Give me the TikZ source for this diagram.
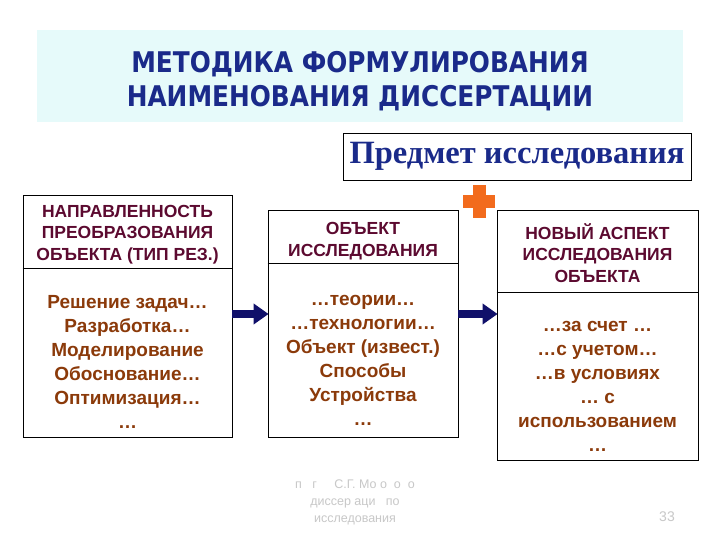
\documentclass[tikz,border=0pt]{standalone}
\usepackage{fontspec}
\setmainfont{Liberation Sans}
\newfontfamily\titlefont{DejaVu Sans}[FakeStretch=0.87]
\newfontfamily\predfont{Liberation Serif}
\usepackage{xcolor}
\usepackage{tikz}
\usetikzlibrary{arrows.meta}
\definecolor{titleblue}{HTML}{1A2A8A}
\definecolor{titlebg}{HTML}{E6FAFA}
\definecolor{headred}{HTML}{5C0A30}
\definecolor{bodybrown}{HTML}{8B3A0A}
\definecolor{arrowblue}{HTML}{10106A}
\definecolor{plusorange}{HTML}{F26B1D}
\definecolor{footgray}{HTML}{C8C8C8}
\tikzset{
	colbox/.style={draw=black, line width=0.8pt, inner sep=0pt},
	headtxt/.style={align=center, text=headred, font=\bfseries\fontsize{17.5}{21.5}\selectfont},
	bodytxt/.style={align=center, text=bodybrown, font=\bfseries\fontsize{19}{24}\selectfont},
	bigarrow/.style={draw=arrowblue, line width=8pt, -{Triangle[length=15pt,width=20pt]}, shorten >=-1pt}
}

\begin{document}
\begin{tikzpicture}[x=1pt, y=-1pt]
				\useasboundingbox[fill=white] (0,0) rectangle (720,540);
				
				% title
				\node[fill=titlebg, minimum width=646, minimum height=92, inner sep=0pt] (titlebox) at (360,76) {};
				\node[align=center, text=titleblue, font=\titlefont\bfseries\fontsize{28.5}{34}\selectfont] (title) at (360,81)
				{МЕТОДИКА ФОРМУЛИРОВАНИЯ\\НАИМЕНОВАНИЯ ДИССЕРТАЦИИ};
				
				% subject box
				\node[colbox, minimum width=348, minimum height=47, text=titleblue,
				font=\predfont\bfseries\fontsize{32.5}{32.5}\selectfont] (predmet) at (517,156.5) {Предмет исследования};
				
				% plus
				\coordinate (plus) at (479,201.5);
				\fill[plusorange] ([xshift=-16,yshift=-6.5]plus) rectangle ([xshift=16,yshift=6.5]plus);
				\fill[plusorange] ([xshift=-6.5,yshift=-16.5]plus) rectangle ([xshift=6.5,yshift=16.5]plus);
				
				% columns
				\foreach \n/\x/\y/\w/\h/\s in
				{napr/127.5/316/209/242/268, obj/363/323.5/190/227/263, asp/597.5/335/201/250/292}{
					\node[colbox, minimum width=\w, minimum height=\h] (\n) at (\x,\y) {};
					\draw[line width=0.8pt] (\n.west |- 0,\s) -- (\n.east |- 0,\s);
				}
				
				% column 1
				\node[headtxt] (naprhead) at (127.5,234.5)
				{НАПРАВЛЕННОСТЬ\\ПРЕОБРАЗОВАНИЯ\\ОБЪЕКТА (ТИП РЕЗ.)};
				\node[bodytxt] (naprbody) at (127.5,362)
				{Решение задач…\\Разработка…\\Моделирование\\Обоснование…\\Оптимизация…\\…};
				
				% column 2
				\node[headtxt] (objhead) at (363,241)
				{ОБЪЕКТ\\ИССЛЕДОВАНИЯ};
				\node[bodytxt] (objbody) at (363,360)
				{…теории…\\…технологии…\\Объект (извест.)\\Способы\\Устройства\\…};
				
				% column 3
				\node[headtxt] (asphead) at (597.5,253)
				{НОВЫЙ АСПЕКТ\\ИССЛЕДОВАНИЯ\\ОБЪЕКТА};
				\node[bodytxt] (aspbody) at (597.5,386)
				{…за счет …\\…с учетом…\\…в условиях\\… с\\использованием\\…};
				
				% arrows
				\coordinate (arrowrow) at (0,314);
				\draw[bigarrow] (napr.east |- arrowrow) -- (obj.west |- arrowrow);
				\draw[bigarrow] (obj.east |- arrowrow) -- (asp.west |- arrowrow);
				
				% footer
				\node[align=center, text=footgray, font=\fontsize{12.5}{17}\selectfont] (foot) at (355,502)
				{п\ \ \ г\ \ \ \ \ С.Г.\ Мо\ о\ \ о\ \ о\\диссер\ аци\ \ \ по\\исследования};
				\node[text=footgray, font=\fontsize{14}{14}\selectfont] (pagenum) at (667,517) {33};
			\end{tikzpicture}
\end{document}
